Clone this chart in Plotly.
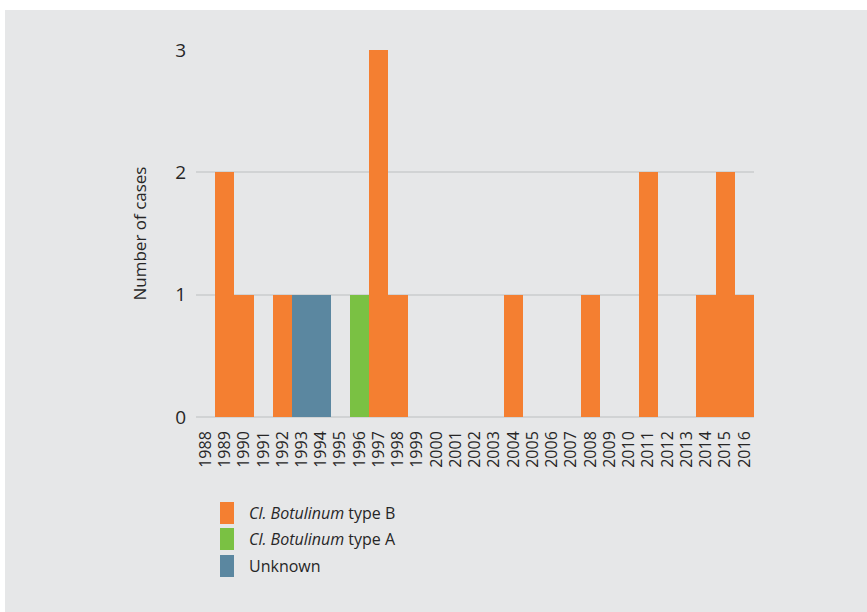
import plotly.graph_objects as go

years = [str(y) for y in range(1988, 2017)]
type_b = [0, 2, 1, 0, 1, 0, 0, 0, 0, 3, 1, 0, 0, 0, 0, 0, 1, 0, 0, 0, 1, 0, 0, 2, 0, 0, 1, 2, 1]
type_a = [0, 0, 0, 0, 0, 0, 0, 0, 1, 0, 0, 0, 0, 0, 0, 0, 0, 0, 0, 0, 0, 0, 0, 0, 0, 0, 0, 0, 0]
unknown = [0, 0, 0, 0, 0, 1, 1, 0, 0, 0, 0, 0, 0, 0, 0, 0, 0, 0, 0, 0, 0, 0, 0, 0, 0, 0, 0, 0, 0]
series_names = ["<i>Cl. Botulinum</i> type B", "<i>Cl. Botulinum</i> type A", "Unknown"]
series_values = [type_b, type_a, unknown]
colors = ["#F47F31", "#7AC143", "#5B87A0"]
y_ticks = [0, 1, 2, 3]

W, H = 867, 612
L, R, T, B = 196, 113, 50, 195
pw, ph = W - L - R, H - T - B

def px(x):
    return (x - L) / pw

def py(y):
    return (H - B - y) / ph

FONT = "Open Sans, sans-serif"
TXT = "#262626"

fig = go.Figure()
for name, vals, c in zip(series_names, series_values, colors):
    fig.add_trace(go.Bar(x=years, y=vals, name=name, marker=dict(color=c, line=dict(width=0)),
                         showlegend=False, hoverinfo="skip"))

shapes = [dict(type="rect", xref="paper", yref="paper", x0=px(5), x1=px(W + 5), y0=py(H + 5), y1=py(10),
               fillcolor="#E6E7E8", line=dict(width=0), layer="below")]
annotations = []
row_y = [513, 539, 566]
for name, c, yc in zip(series_names, colors, row_y):
    shapes.append(dict(type="rect", xref="paper", yref="paper", x0=px(220), x1=px(234),
                       y0=py(yc + 11), y1=py(yc - 11), fillcolor=c, line=dict(width=0)))
    annotations.append(dict(xref="paper", yref="paper", x=px(247), y=py(yc), text=name, showarrow=False,
                            xanchor="left", yanchor="middle", font=dict(size=16, color=TXT, family=FONT)))

fig.update_layout(
    width=W, height=H,
    margin=dict(l=L, r=R, t=T, b=B, pad=0),
    paper_bgcolor="white", plot_bgcolor="#E6E7E8",
    barmode="stack", bargap=0,
    font=dict(family=FONT, size=16, color=TXT),
    shapes=shapes, annotations=annotations,
    xaxis=dict(type="category", tickmode="array", tickvals=years, ticktext=years,
               tickangle=-90, showgrid=False, showline=False, ticks="",
               tickfont=dict(size=16), ticklabelstandoff=10),
    yaxis=dict(range=[0, 3], tickvals=y_ticks, showgrid=True, gridcolor="#D1D3D4", gridwidth=1.5,
               zeroline=True, zerolinecolor="#D1D3D4", zerolinewidth=1.5, ticks="",
               tickfont=dict(size=19), ticklabelstandoff=9,
               title=dict(text="Number of cases", font=dict(size=17), standoff=24)),
)
fig.write_html("out.html", config={"displayModeBar": False},
               post_script="document.body.style.margin='0px';")
